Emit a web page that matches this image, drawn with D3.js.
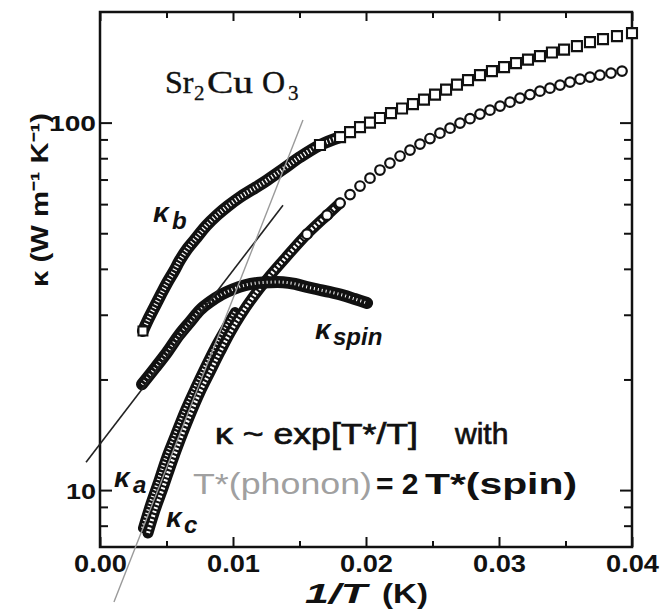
<!DOCTYPE html>
<html>
<head>
<meta charset="utf-8">
<script src="https://cdn.jsdelivr.net/npm/d3@7"></script>
<style>
  body { margin: 0; background: #fff; }
</style>
</head>
<body>
<svg id="chart" width="661" height="614"></svg>
<script>
// ---- data (1/T in 1/K, kappa in W m^-1 K^-1) ----
const kbInvT = [0.00323, 0.00368, 0.00414, 0.00459, 0.00504, 0.00556, 0.00602, 0.00662, 0.00729, 0.00797,
  0.0088, 0.00962, 0.01053, 0.0115, 0.01256, 0.01376, 0.01504, 0.01654, 0.01805, 0.0188,
  0.01955, 0.0203, 0.02105, 0.02188, 0.02271, 0.02353, 0.02436, 0.02519, 0.02602, 0.02684,
  0.02767, 0.02857, 0.02947, 0.03038, 0.03128, 0.03218, 0.03308, 0.03398, 0.03489, 0.03586,
  0.03684, 0.03782, 0.03887, 0.04];
const kbKappa = [27.1, 29.4, 31.7, 34.1, 36.6, 39.4, 42.3, 45.6, 48.8, 52.3,
  56.0, 59.3, 62.7, 65.9, 69.7, 74.7, 80.6, 86.9, 91.3, 94.2,
  97.2, 100.0, 102.9, 106.1, 109.2, 112.3, 115.5, 119.2, 123.0, 126.9,
  130.5, 134.7, 138.1, 141.6, 145.2, 148.4, 151.7, 155.1, 158.0, 161.5,
  165.6, 168.7, 171.9, 175.2];

const kcInvT = [0.00361, 0.00414, 0.00474, 0.00541, 0.00602, 0.00677, 0.00752, 0.00827, 0.00902, 0.00977,
  0.01053, 0.0115, 0.01256, 0.01406, 0.01556, 0.01707, 0.01805, 0.0188, 0.01955, 0.0203,
  0.02105, 0.0218, 0.02256, 0.02331, 0.02406, 0.02481, 0.02556, 0.02632, 0.02707, 0.02782,
  0.02857, 0.02932, 0.03008, 0.03083, 0.03158, 0.03233, 0.03308, 0.03383, 0.03459, 0.03534,
  0.03609, 0.03684, 0.03759, 0.03842, 0.03925];
const kcKappa = [7.64, 8.82, 10.13, 11.92, 13.68, 16.0, 18.48, 20.95, 23.74, 26.74,
  29.75, 33.5, 37.5, 43.3, 49.7, 56.0, 60.4, 63.7, 67.2, 70.6,
  74.3, 77.6, 81.1, 84.2, 87.4, 90.5, 93.6, 96.6, 99.7, 102.5,
  105.5, 108.1, 110.9, 113.7, 116.6, 119.2, 121.8, 124.1, 126.5, 128.9,
  131.3, 133.0, 134.7, 136.4, 138.1];

const kaInvT  = [0.00323, 0.00376, 0.00436, 0.00496, 0.00564, 0.00639, 0.00714, 0.00789, 0.00865, 0.0094, 0.01015];
const kaKappa = [7.88, 9.10, 10.51, 12.22, 14.11, 16.5, 18.95, 21.6, 24.5, 27.4, 30.5];

const kspinInvT  = [0.00316, 0.00414, 0.00504, 0.00594, 0.00677, 0.00752, 0.00827, 0.00917, 0.01, 0.0109,
  0.0118, 0.01278, 0.01376, 0.01466, 0.01556, 0.01632, 0.01729, 0.01827, 0.01917, 0.02008];
const kspinKappa = [19.4, 21.5, 23.7, 26.4, 28.7, 30.9, 32.5, 34.1, 35.2, 36.1,
  36.6, 36.8, 36.8, 36.4, 35.7, 35.2, 34.6, 33.9, 33.1, 32.3];

// exp[T*/T] fits (straight lines on the log scale)
const spinFitInvT    = [-0.00105, 0.01376];
const spinFitKappa   = [11.9, 59.6];
const phononFitInvT  = [0.00105, 0.01526];
const phononFitKappa = [4.96, 101.6];

// axes
const xMajor = [0, 0.01, 0.02, 0.03, 0.04];
const xMinor = [0.005, 0.015, 0.025, 0.035];
const yMajor = [10, 100];
const yMinor = [8, 9, 20, 30, 40, 50, 60, 70, 80, 90];

const FONT = '"Liberation Sans", Arial, Helvetica, sans-serif';

const svg = d3.select('#chart');
const margin = { top: 12, right: 29, bottom: 67, left: 100 };
const width  = 661 - margin.left - margin.right;
const height = 614 - margin.top - margin.bottom;

const x = d3.scaleLinear().domain([0, 0.04]).range([0, width]);
const y = d3.scaleLog().domain([7, 200]).range([height, 0]);

const g = svg.append('g').attr('transform', `translate(${margin.left},${margin.top})`);

// stretch a text to a given pixel width (the scan's lettering is wide)
function fit(sel, w) {
  sel.attr('textLength', w).attr('lengthAdjust', 'spacingAndGlyphs');
}

// --- axes: ticks point inward on all four sides ---
function tickAxis(axisFn, values, size, labels) {
  const a = axisFn.tickValues(values).tickSizeInner(-size).tickSizeOuter(0).tickPadding(size + 8);
  if (!labels) a.tickFormat('');
  return a;
}
const axisStyle = sel => {
  sel.select('.domain').remove();
  sel.selectAll('line').attr('stroke', '#111').attr('stroke-width', 2);
  sel.selectAll('text').attr('fill', '#111').attr('font-family', FONT).attr('font-weight', 'bold');
};

const xb = g.append('g').attr('transform', `translate(0,${height})`);
xb.append('g').call(tickAxis(d3.axisBottom(x), xMajor, 10, true).tickFormat(d3.format('.2f'))).call(axisStyle);
xb.append('g').call(tickAxis(d3.axisBottom(x), xMinor, 6, false)).call(axisStyle);
xb.selectAll('text').attr('font-size', 23).attr('dy', '0.71em').attr('y', 9).each(function () { fit(d3.select(this), 53); });

const xt = g.append('g');
xt.append('g').call(tickAxis(d3.axisTop(x), xMajor, 9, false)).call(axisStyle);
xt.append('g').call(tickAxis(d3.axisTop(x), xMinor, 6, false)).call(axisStyle);

const yl = g.append('g');
yl.append('g').call(tickAxis(d3.axisLeft(y), yMajor, 12, true).tickFormat(d3.format('d'))).call(axisStyle);
yl.append('g').call(tickAxis(d3.axisLeft(y), yMinor, 8, false)).call(axisStyle);
yl.selectAll('text').attr('font-size', 22).attr('x', -4).attr('dy', '0.36em')
  .each(function (d) { fit(d3.select(this), d === 100 ? 47 : 30); });

const yr = g.append('g').attr('transform', `translate(${width},0)`);
yr.append('g').call(tickAxis(d3.axisRight(y), yMajor, 12, false)).call(axisStyle);
yr.append('g').call(tickAxis(d3.axisRight(y), yMinor, 8, false)).call(axisStyle);

g.append('rect')
  .attr('width', width).attr('height', height)
  .attr('fill', 'none').attr('stroke', '#111').attr('stroke-width', 2.5);

// --- series ---
const toPts = (us, ks) => us.map((u, i) => ({ u, k: ks[i] }));
const line = d3.line().x(d => x(d.u)).y(d => y(d.k)).curve(d3.curveCatmullRom);

// densely packed markers in the scan merge into a dark band with light slots
function band(pts, w, inner, dash) {
  g.append('path').datum(pts).attr('d', line)
    .attr('fill', 'none').attr('stroke', '#111').attr('stroke-width', w).attr('stroke-linecap', 'round');
  g.append('path').datum(pts).attr('d', line)
    .attr('fill', 'none').attr('stroke', '#fff').attr('stroke-width', inner).attr('stroke-dasharray', dash);
}
function markers(pts, type, size, sw) {
  g.append('g').selectAll('path').data(pts).join('path')
    .attr('transform', d => `translate(${x(d.u)},${y(d.k)})`)
    .attr('d', d3.symbol(type, size))
    .attr('fill', '#fff').attr('stroke', '#111').attr('stroke-width', sw);
}

const kb = toPts(kbInvT, kbKappa);
const kc = toPts(kcInvT, kcKappa);
const ka = toPts(kaInvT, kaKappa);
const ks = toPts(kspinInvT, kspinKappa);

band(kb.filter(d => d.u <= 0.0181), 12, 4.5, '1.2 2.4');
markers([kb[0]], d3.symbolSquare, 80, 2);
markers(kb.filter(d => d.u >= 0.0165), d3.symbolSquare, 100, 2.1);

band(ka, 10, 4, '1.2 2.4');
band(kc.filter(d => d.u <= 0.0181), 11, 4, '2 2.2');
markers(kc.filter(d => d.u >= 0.0155), d3.symbolCircle, 72, 2.2);

band(ks, 12, 3, '1 3');

// fit lines
g.append('path').datum(toPts(spinFitInvT, spinFitKappa)).attr('d', line)
  .attr('fill', 'none').attr('stroke', '#222').attr('stroke-width', 1.6);
g.append('path').datum(toPts(phononFitInvT, phononFitKappa)).attr('d', line)
  .attr('fill', 'none').attr('stroke', '#9a9a9a').attr('stroke-width', 1.4);

// --- text ---
function txt(str, px, py, opt = {}) {
  const t = svg.append('text')
    .attr('x', px).attr('y', py)
    .attr('font-family', opt.family || FONT)
    .attr('font-size', opt.size || 28)
    .attr('font-weight', opt.weight || 'normal')
    .attr('font-style', opt.style || 'normal')
    .attr('fill', opt.fill || '#111')
    .text(str);
  if (opt.heavy) t.attr('stroke', opt.fill || '#111').attr('stroke-width', opt.heavy);
  if (opt.w) fit(t, opt.w);
  return t;
}

// compound label
const SERIF = '"Liberation Serif", "Times New Roman", serif';
txt('Sr', 165, 93, { family: SERIF, size: 32, heavy: 0.4 });
txt('2', 194, 100, { family: SERIF, size: 21, heavy: 0.3 });
txt('Cu', 207, 93, { family: SERIF, size: 32, w: 46, heavy: 0.4 });
txt('O', 262, 93, { family: SERIF, size: 32, heavy: 0.4 });
txt('3', 288, 100, { family: SERIF, size: 21, heavy: 0.3 });

// curve labels
const kap = { size: 28, weight: 'bold', style: 'italic' };
const sub = { size: 24, weight: 'bold', style: 'italic' };
txt('κ', 153, 222, kap); txt('b', 172, 229, sub);
txt('κ', 315, 339, kap); txt('spin', 333, 345, sub);
txt('κ', 114, 487, kap); txt('a', 133, 493, sub);
txt('κ', 166, 527, kap); txt('c', 184, 533, sub);

// fit description
txt('κ ~ exp[T*/T]', 215, 444, { size: 30, w: 203, heavy: 0.7 });
txt('with', 455, 444, { size: 30, heavy: 0.7 });
txt('T*(phonon)', 193, 494, { size: 30, fill: '#a0a0a0', w: 179 });
txt('= 2', 376, 494, { size: 30, weight: 'bold' });
txt('T*(spin)', 425, 494, { size: 30, weight: 'bold', w: 152 });

// axis titles
txt('1/T', 305, 603, { size: 27, weight: 'bold', style: 'italic', w: 62 });
txt('(K)', 382, 603, { size: 27, weight: 'bold', w: 46 });

svg.append('text')
  .attr('transform', 'translate(48,200) rotate(-90)')
  .attr('text-anchor', 'middle')
  .attr('font-family', FONT).attr('font-size', 24).attr('font-weight', 'bold')
  .attr('fill', '#111')
  .text('κ (W m⁻¹ K⁻¹)')
  .call(fit, 174);
</script>
</body>
</html>
